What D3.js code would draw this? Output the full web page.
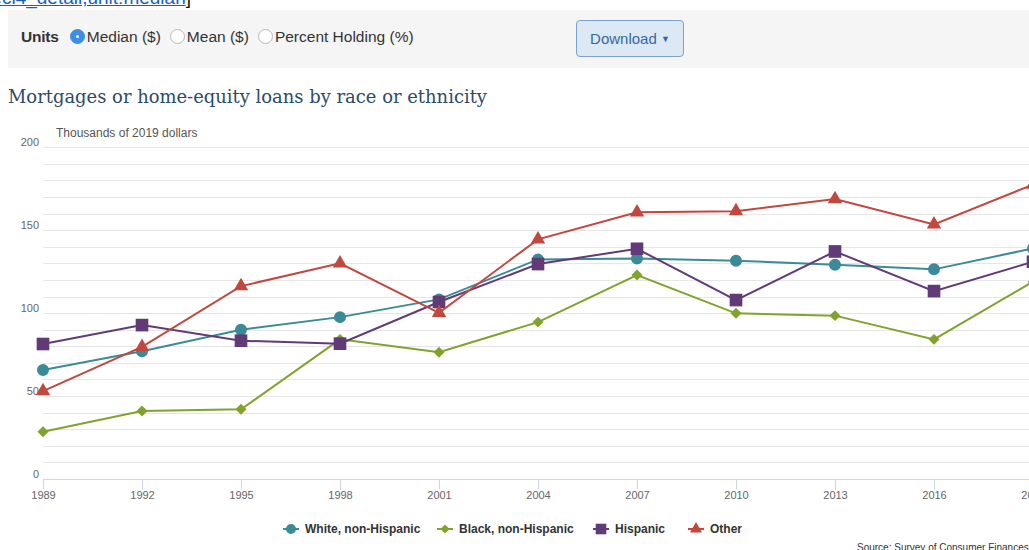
<!DOCTYPE html>
<html>
<head>
<meta charset="utf-8">
<script src="https://cdn.jsdelivr.net/npm/d3@7"></script>
<style>
  body { margin: 0; background: #fff; font-family: "Liberation Sans", Arial, sans-serif; overflow: hidden; }
  #page { position: relative; width: 1029px; height: 550px; overflow: hidden; }
  #crumb { position: absolute; right: 838px; top: -13px; font-size: 19px; color: #111; white-space: nowrap; }
  #crumb a { color: #1a5fc4; text-decoration: underline; }
  #bar { position: absolute; left: 8px; top: 10px; width: 1030px; height: 58px; background: #f5f5f5; }
  #units { position: absolute; left: 13px; top: 18px; font-size: 15.5px; color: #333; white-space: nowrap; }
  #units b { margin-right: 11px; letter-spacing: -0.2px; }
  .radio { display: inline-block; width: 15px; height: 15px; border-radius: 50%; border: 1px solid #b8b8b8;
           background: #fff; box-sizing: border-box; vertical-align: -2px; margin-right: 2px; position: relative; }
  .radio.on { background: #3b8fe8; border-color: #3b8fe8; }
  .radio.on::after { content: ""; position: absolute; left: 5px; top: 5px; width: 3px; height: 3px; border-radius: 50%; background: #fff; }
  .opt { margin-right: 9px; }
  #download { position: absolute; left: 568px; top: 10px; width: 108px; height: 37px; box-sizing: border-box;
              background: #dde8f5; border: 1px solid #7aa3d2; border-radius: 4px; color: #3569a6; font-size: 15px;
              text-align: center; line-height: 35px; }
  #download small { font-size: 9px; vertical-align: 2px; }
  svg { position: absolute; left: 0; top: 0; }
</style>
</head>
<body>
<div id="page">
  <div id="crumb"><a>racecl4_detail,unit:median</a>]</div>
  <div id="bar">
    <div id="units"><b>Units</b><span class="radio on"></span><span class="opt">Median ($)</span><span class="radio"></span><span class="opt">Mean ($)</span><span class="radio"></span><span class="opt">Percent Holding (%)</span></div>
    <div id="download">Download <small>&#9660;</small></div>
  </div>
  <div id="chart"></div>
</div>
<script>
// survey years
const years = [1989, 1992, 1995, 1998, 2001, 2004, 2007, 2010, 2013, 2016, 2019];

// median values, thousands of 2019 dollars
const white = [65.7, 77, 90, 97.6, 108.3, 132.4, 133, 131.6, 129.2, 126.4, 139];
const black = [28.5, 41, 42, 84.2, 76.4, 94.6, 123, 99.9, 98.5, 84.2, 119];
const hispanic = [81.4, 92.8, 83.4, 81.6, 106.7, 129.6, 138.8, 107.9, 137.2, 113.3, 131];
const other = [53, 79.7, 116.3, 130, 100.2, 144.5, 160.8, 161.5, 168.8, 153.5, 177.5];

const seriesNames = ['White, non-Hispanic', 'Black, non-Hispanic', 'Hispanic', 'Other'];
const yTicks = [0, 50, 100, 150, 200];

// square diamond (d3's own is stretched)
const symbolRhomb = {
  draw(ctx, size) {
    const r = Math.sqrt(size / 2);
    ctx.moveTo(0, -r);
    ctx.lineTo(r, 0);
    ctx.lineTo(0, r);
    ctx.lineTo(-r, 0);
    ctx.closePath();
  }
};

const series = [
  { name: seriesNames[0], values: white, color: '#3a8a98', symbol: d3.symbolCircle, size: 113 },
  { name: seriesNames[1], values: black, color: '#80a32c', symbol: symbolRhomb, size: 60 },
  { name: seriesNames[2], values: hispanic, color: '#613a78', symbol: d3.symbolSquare, size: 160 },
  { name: seriesNames[3], values: other, color: '#c2473f', symbol: d3.symbolTriangle, size: 90 }
];

const width = 1029, height = 550;
const svg = d3.select('#chart').append('svg')
  .attr('width', width)
  .attr('height', height);

// title
svg.append('text')
  .attr('x', 8)
  .attr('y', 103)
  .text('Mortgages or home-equity loans by race or ethnicity')
  .style('font-family', '"DejaVu Serif", Georgia, serif')
  .style('font-size', '18px')
  .style('fill', '#2d4a68')
  .attr('textLength', 479)
  .attr('lengthAdjust', 'spacingAndGlyphs');

const x = d3.scaleLinear().domain([1989, 2019]).range([43, 1033]);
const y = d3.scaleLinear().domain([0, 200]).range([479, 147.3]);

// horizontal grid every 10
svg.append('g')
  .selectAll('line')
  .data(d3.range(10, 201, 10))
  .join('line')
  .attr('x1', 43)
  .attr('x2', width)
  .attr('y1', d => Math.round(y(d)) + 0.5)
  .attr('y2', d => Math.round(y(d)) + 0.5)
  .attr('stroke', '#e6e6e6');

// y labels
svg.append('g')
  .selectAll('text')
  .data(yTicks)
  .join('text')
  .attr('x', 39)
  .attr('y', d => y(d) - 1)
  .attr('text-anchor', 'end')
  .text(d => d)
  .style('font-size', '11px')
  .style('fill', '#666');

svg.append('text')
  .attr('x', 56)
  .attr('y', 137)
  .text('Thousands of 2019 dollars')
  .style('font-size', '12px')
  .style('fill', '#555');

// x axis
const xAxis = d3.axisBottom(x).tickValues(years).tickFormat(d3.format('d')).tickSize(10).tickPadding(2);
const gx = svg.append('g')
  .attr('transform', `translate(0, ${Math.round(y(0)) + 0.5})`)
  .call(xAxis);
gx.select('.domain').attr('stroke', '#ccd6eb').attr('d', `M43,0H${width}`);
gx.selectAll('.tick line').attr('stroke', '#ccd6eb');
gx.selectAll('.tick text')
  .style('font-family', '"Liberation Sans", Arial, sans-serif')
  .style('font-size', '11px')
  .style('fill', '#666');

// lines and markers
const line = d3.line()
  .x((d, i) => x(years[i]))
  .y(d => y(d));

series.forEach(s => {
  const g = svg.append('g');
  g.append('path')
    .datum(s.values)
    .attr('d', line)
    .attr('fill', 'none')
    .attr('stroke', s.color)
    .attr('stroke-width', 2);
  g.selectAll('path.pt')
    .data(s.values)
    .join('path')
    .attr('class', 'pt')
    .attr('transform', (d, i) => `translate(${x(years[i])}, ${y(d)})`)
    .attr('d', d3.symbol(s.symbol, s.size))
    .attr('fill', s.color);
});

// legend
const legendX = [283, 437, 593, 688];
const legend = svg.append('g');
series.forEach((s, i) => {
  const lg = legend.append('g').attr('transform', `translate(${legendX[i]}, 529)`);
  lg.append('line')
    .attr('x1', 0).attr('x2', 16)
    .attr('stroke', s.color).attr('stroke-width', 2);
  lg.append('path')
    .attr('transform', 'translate(8, 0)')
    .attr('d', d3.symbol(s.symbol, s.size * 0.7))
    .attr('fill', s.color);
  lg.append('text')
    .attr('x', 22)
    .attr('y', 4)
    .text(s.name)
    .style('font-size', '12px')
    .style('font-weight', 'bold')
    .style('fill', '#333');
});

svg.append('text')
  .attr('x', 857)
  .attr('y', 551)
  .text('Source: Survey of Consumer Finances')
  .style('font-size', '10px')
  .style('fill', '#333');
</script>
</body>
</html>
